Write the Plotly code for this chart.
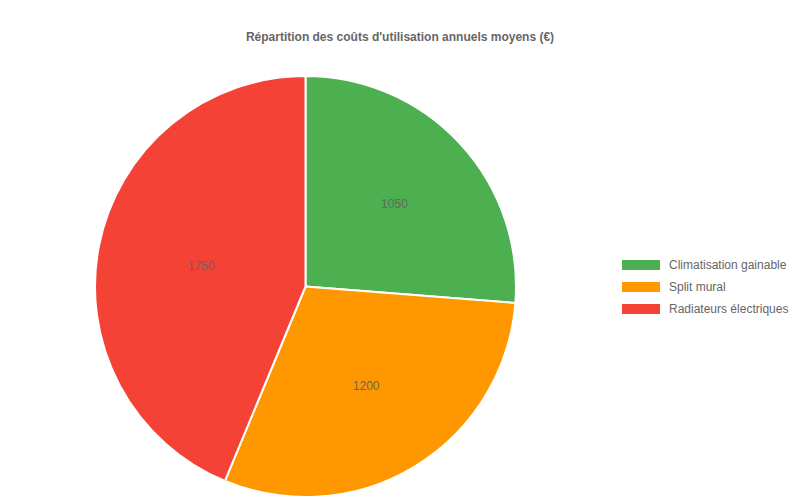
import plotly.graph_objects as go

# categories and annual costs (EUR)
labels = ["Climatisation gainable", "Split mural", "Radiateurs électriques"]
values = [1050, 1200, 1750]
colors = ["#4CAF50", "#FF9800", "#F44336"]

title_text = "Répartition des coûts d'utilisation annuels moyens (€)"
FONT = "Liberation Sans, Arial, sans-serif"
W, H = 800, 500

fig = go.Figure()
fig.add_trace(go.Pie(
    labels=labels,
    values=values,
    sort=False,
    direction="clockwise",
    rotation=0,
    marker=dict(colors=colors, line=dict(color="#ffffff", width=2)),
    textinfo="value",
    textposition="inside",
    insidetextorientation="horizontal",
    textfont=dict(color="#666666", size=12, family=FONT),
    domain=dict(x=[0.10875, 0.635], y=[0.022, 0.864]),
    hoverinfo="label+value+percent",
    showlegend=False,
))

# legend drawn by hand: wide colour bars, like the original
shapes, annots = [], []
for i, (lab, col) in enumerate(zip(labels, colors)):
    yc = 1 - (257 + 22 * i) / H
    shapes.append(dict(
        type="rect", xref="paper", yref="paper",
        x0=614 / W, x1=652 / W, y0=yc - 5 / H, y1=yc + 5 / H,
        fillcolor=col, line=dict(width=0),
    ))
    annots.append(dict(
        text=lab, xref="paper", yref="paper",
        x=659 / W, y=yc, xanchor="left", yanchor="middle",
        showarrow=False, font=dict(size=12, color="#666666", family=FONT),
    ))

fig.update_layout(
    width=W, height=H,
    paper_bgcolor="#ffffff",
    plot_bgcolor="#ffffff",
    margin=dict(l=0, r=0, t=0, b=0),
    font=dict(family=FONT, color="#666666", size=12),
    title=dict(
        text="<b>" + title_text + "</b>",
        x=0.49, xanchor="center",
        y=1 - 29 / H, yanchor="middle",
        font=dict(size=12, color="#666666"),
    ),
    shapes=shapes,
    annotations=annots,
)

fig.write_html("out.html")
